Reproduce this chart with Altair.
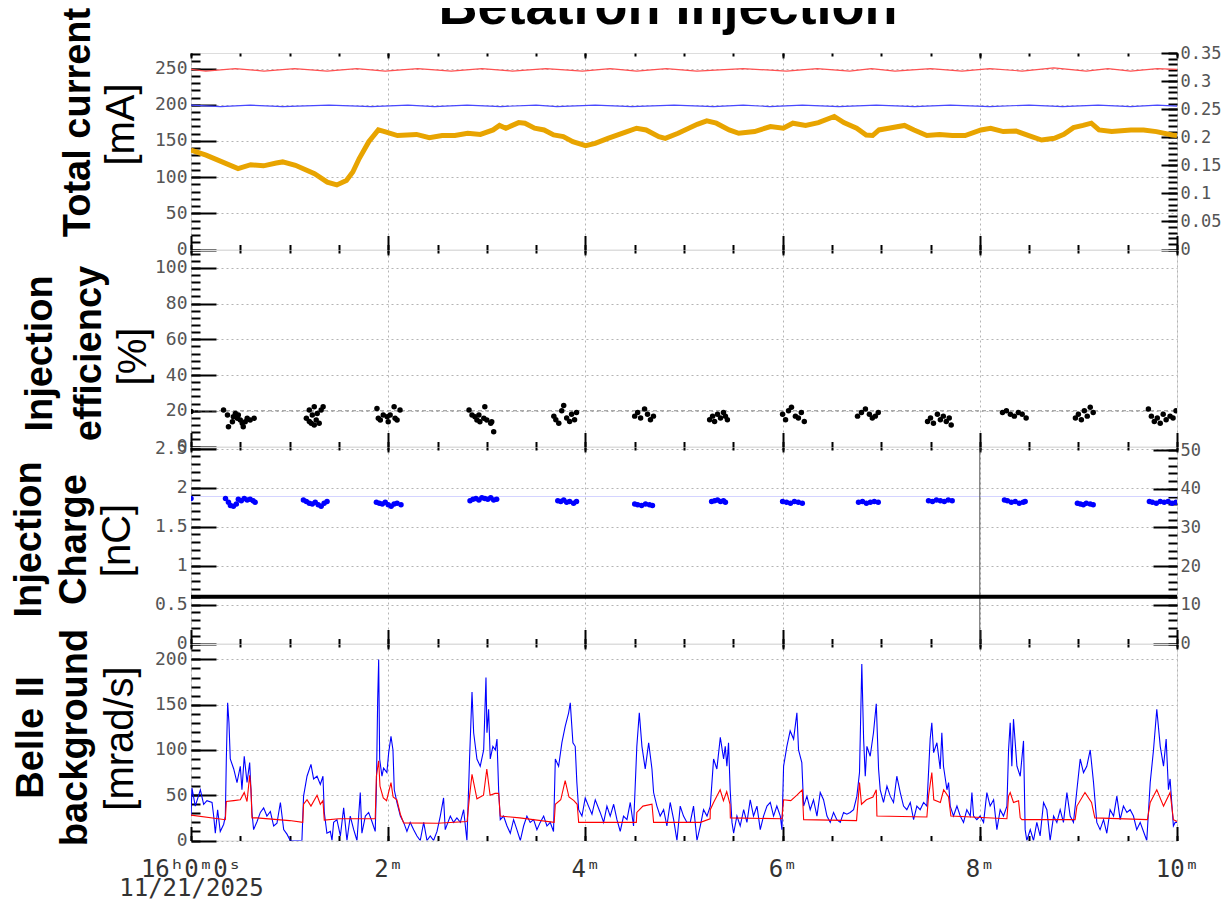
import altair as alt
import pandas as pd

# ---------------- shared time axis (minutes after 16:00:00) ----------------
X_TICKS = [0, 2, 4, 6, 8, 10]
X_LABELS = ["16ʰ0ᵐ0ˢ", "2ᵐ", "4ᵐ", "6ᵐ", "8ᵐ", "10ᵐ"]
X_DATE = "11/21/2025"

# ---------------- panel 1 : total current ----------------
ler_t = [0, 0.15, 0.45, 0.74, 1.05, 1.38, 1.68, 1.97, 2.3, 2.64, 2.95, 3.26, 3.6, 3.97, 4.25, 4.52, 4.82,
         5.13, 5.6, 6.04, 6.35, 6.68, 6.9, 7.14, 7.5, 7.82, 8.1, 8.43, 8.75, 9.08, 9.3, 9.53, 9.8, 10]
ler_v = [249, 246.5, 250, 246.5, 250, 246.5, 250, 246.5, 250, 246.5, 250, 246.5, 250, 246.5, 250, 246.5, 250,
         246.5, 250, 246.5, 250, 246.5, 250, 246.5, 250, 246.5, 250, 246.5, 251, 246.5, 250, 246.5, 250, 249]
her_t = [0, 0.3, 0.6, 0.93, 1.4, 1.83, 2.2, 2.47, 2.8, 3.14, 3.5, 3.71, 4.1, 4.47, 4.9, 5.3, 5.6, 5.87,
         6.2, 6.57, 6.95, 7.34, 7.7, 8.1, 8.5, 8.84, 9.2, 9.53, 9.8, 10]
her_v = [199.5, 197.5, 199.5, 197.5, 199.5, 197.5, 199.5, 197.5, 199.5, 197.5, 199.5, 197.5, 199.5, 197.5,
         199.5, 197.5, 199.5, 197.5, 199.5, 197.5, 199.5, 197.5, 199.5, 197.5, 199.5, 197.5, 199.5, 197.5, 199.5, 198]
# orange trace, read against the right-hand axis
ora_t = [0, 0.153, 0.477, 0.606, 0.735, 0.865, 0.930, 1.059, 1.253, 1.382, 1.479, 1.576, 1.641, 1.706,
         1.803, 1.900, 1.964, 2.094, 2.288, 2.417, 2.547, 2.676, 2.806, 2.935, 3.064, 3.129, 3.193, 3.323,
         3.387, 3.485, 3.581, 3.678, 3.776, 3.872, 4.002, 4.099, 4.228, 4.422, 4.519, 4.616, 4.745, 4.810,
         4.940, 5.134, 5.231, 5.328, 5.458, 5.555, 5.716, 5.877, 6.007, 6.104, 6.233, 6.363, 6.524, 6.621,
         6.751, 6.848, 6.913, 6.978, 7.075, 7.236, 7.333, 7.463, 7.592, 7.721, 7.851, 8.012, 8.110, 8.238,
         8.368, 8.497, 8.627, 8.756, 8.853, 8.950, 9.047, 9.131, 9.209, 9.338, 9.532, 9.661, 9.791, 9.952, 10]
ora_v = [0.177, 0.168, 0.144, 0.151, 0.149, 0.154, 0.156, 0.150, 0.135, 0.120, 0.115, 0.123, 0.138, 0.162,
         0.192, 0.213, 0.210, 0.203, 0.205, 0.199, 0.203, 0.203, 0.207, 0.205, 0.213, 0.221, 0.216, 0.226,
         0.225, 0.216, 0.213, 0.204, 0.201, 0.192, 0.185, 0.189, 0.198, 0.210, 0.216, 0.213, 0.201, 0.198,
         0.207, 0.223, 0.229, 0.225, 0.213, 0.207, 0.210, 0.219, 0.216, 0.225, 0.221, 0.226, 0.237, 0.226,
         0.216, 0.204, 0.203, 0.213, 0.216, 0.221, 0.213, 0.203, 0.205, 0.203, 0.203, 0.213, 0.216, 0.210,
         0.211, 0.203, 0.195, 0.198, 0.205, 0.217, 0.221, 0.225, 0.213, 0.210, 0.213, 0.213, 0.210, 0.204, 0.203]

# ---------------- panel 2 : injection efficiency [%] ----------------
eff = [(0.0, 19.6),
       (0.33, 20.4), (0.37, 17.6), (0.38, 11.1), (0.42, 13.9), (0.43, 16.7), (0.45, 18.5), (0.47, 15.8),
       (0.48, 17.6), (0.50, 14.8), (0.52, 13.0), (0.53, 11.1), (0.55, 13.9), (0.57, 15.8), (0.60, 14.8), (0.64, 15.8),
       (1.17, 15.8), (1.20, 20.4), (1.22, 13.0), (1.23, 17.6), (1.25, 12.0), (1.27, 14.8), (1.28, 18.5),
       (1.30, 13.0), (1.32, 20.4), (1.34, 22.2), (1.25, 22.2), (1.20, 14.0),
       (1.886, 21.3), (1.90, 15.8), (1.92, 14.8), (1.95, 17.6), (1.99, 16.7), (2.0, 13.9), (2.02, 17.6),
       (2.06, 22.2), (2.07, 15.8), (2.09, 14.8), (2.12, 20.4),
       (2.82, 20.4), (2.85, 17.6), (2.88, 16.7), (2.90, 14.8), (2.93, 13.9), (2.97, 15.8), (2.98, 22.2),
       (3.0, 14.8), (3.04, 13.0), (3.05, 13.9), (3.07, 8.3), (2.92, 17.6),
       (3.68, 17), (3.70, 15), (3.73, 13), (3.76, 20), (3.78, 23), (3.81, 16), (3.84, 14), (3.86, 18), (3.89, 15), (3.91, 19),
       (4.50, 17), (4.53, 19), (4.56, 16), (4.60, 21), (4.63, 18), (4.66, 15), (4.69, 17),
       (5.26, 15), (5.29, 17), (5.31, 14), (5.34, 18), (5.37, 16), (5.40, 19), (5.42, 17), (5.44, 15),
       (6.00, 18), (6.03, 15), (6.06, 20), (6.09, 22), (6.13, 17), (6.16, 16), (6.19, 19), (6.22, 14),
       (6.76, 17), (6.80, 19), (6.84, 21), (6.88, 18), (6.91, 16), (6.94, 17), (6.97, 19),
       (7.47, 14), (7.50, 16), (7.53, 13), (7.57, 18), (7.60, 15), (7.63, 17), (7.66, 14), (7.69, 16), (7.71, 12),
       (8.23, 19), (8.27, 20), (8.31, 18), (8.35, 17), (8.39, 19), (8.43, 18), (8.47, 16),
       (8.97, 16), (9.00, 18), (9.03, 15), (9.06, 20), (9.09, 17), (9.12, 22), (9.15, 19),
       (9.71, 21), (9.74, 17), (9.77, 14), (9.80, 16), (9.83, 13), (9.86, 18), (9.89, 15), (9.93, 17), (9.96, 16), (9.99, 20)]
eff_ref = 20

# ---------------- panel 3 : injection charge [nC] ----------------
chg = [(0.0, 1.86),
       (0.35, 1.86), (0.38, 1.81), (0.40, 1.77), (0.43, 1.76), (0.46, 1.79), (0.48, 1.85), (0.51, 1.83),
       (0.54, 1.86), (0.57, 1.84), (0.60, 1.85), (0.63, 1.83), (0.65, 1.81),
       (1.14, 1.84), (1.17, 1.82), (1.20, 1.80), (1.23, 1.79), (1.26, 1.81), (1.29, 1.78), (1.32, 1.76), (1.35, 1.80), (1.38, 1.82),
       (1.88, 1.81), (1.91, 1.80), (1.94, 1.79), (1.97, 1.81), (2.00, 1.78), (2.03, 1.76), (2.06, 1.79), (2.09, 1.80), (2.13, 1.78),
       (2.83, 1.83), (2.86, 1.85), (2.89, 1.86), (2.92, 1.84), (2.95, 1.87), (2.98, 1.86), (3.01, 1.85), (3.04, 1.87), (3.07, 1.84), (3.10, 1.85),
       (3.72, 1.83), (3.75, 1.82), (3.78, 1.84), (3.81, 1.81), (3.84, 1.82), (3.88, 1.80), (3.91, 1.82),
       (4.50, 1.79), (4.53, 1.78), (4.57, 1.77), (4.61, 1.79), (4.65, 1.78), (4.68, 1.77),
       (5.28, 1.82), (5.31, 1.83), (5.34, 1.84), (5.37, 1.82), (5.40, 1.83), (5.42, 1.81),
       (6.00, 1.82), (6.04, 1.81), (6.08, 1.80), (6.12, 1.82), (6.16, 1.81), (6.20, 1.80),
       (6.77, 1.81), (6.81, 1.82), (6.85, 1.80), (6.89, 1.81), (6.93, 1.82), (6.97, 1.81),
       (7.48, 1.83), (7.52, 1.82), (7.56, 1.84), (7.60, 1.83), (7.64, 1.82), (7.68, 1.84), (7.72, 1.83),
       (8.25, 1.84), (8.28, 1.83), (8.32, 1.81), (8.36, 1.82), (8.40, 1.80), (8.44, 1.81), (8.46, 1.82),
       (8.99, 1.80), (9.02, 1.79), (9.05, 1.78), (9.08, 1.80), (9.12, 1.79), (9.15, 1.78),
       (9.72, 1.82), (9.75, 1.81), (9.79, 1.80), (9.83, 1.82), (9.87, 1.81), (9.91, 1.82), (9.95, 1.80), (9.99, 1.81)]
chg_hold = 1.885
chg_floor = 0.6
chg_marker_t = 8

# ---------------- panel 4 : Belle II background [mrad/s], time in seconds ----------------
bg_blue = [(0, 27), (0.6, 58), (2.6, 38), (5.7, 56), (7.7, 40), (9.7, 44), (12.8, 42), (13.8, 27), (14.8, 8),
           (16.2, 34), (17.8, 10), (19.9, 18), (20.9, 27), (21.5, 90), (22.3, 152), (23.1, 130), (23.9, 90),
           (26.0, 79), (28.0, 64), (30.0, 82), (31.0, 56), (32.4, 93), (34.1, 64), (35.7, 86), (36.5, 56),
           (37.1, 31), (38.1, 12), (40.2, 21), (42.2, 31), (44.2, 36), (46.2, 27), (48.3, 32), (50.3, 16),
           (52.3, 19), (54.4, 42), (56.4, 12), (58.4, 7), (60.4, 0), (67.5, 0), (68.5, 49), (70.6, 71),
           (73.0, 84), (74.6, 68), (76.7, 71), (78.7, 62), (80.3, 71), (81.1, 31), (82.7, 8), (84.8, 10),
           (85.8, 0), (86.8, 20), (88.8, 23), (90.9, 5), (92.9, 36), (94.9, 0), (96.9, 27), (99.0, 12),
           (101.0, 0), (103.0, 53), (104.0, 8), (106.1, 27), (108.1, 31), (110.1, 21), (112.1, 10),
           (112.8, 56), (113.6, 156), (114.2, 200), (114.8, 90), (116.2, 71), (117.2, 80), (119.2, 75),
           (120.3, 97), (121.7, 115), (122.9, 100), (123.7, 56), (125.3, 42), (127.4, 27), (129.4, 20),
           (131.4, 10), (133.4, 20), (135.5, 12), (137.5, 5), (139.5, 0), (141.6, 20), (143.6, 0), (145.6, 5),
           (147.6, 0), (149.7, 10), (151.7, 27), (153.7, 47), (154.7, 12), (157.8, 27), (159.8, 20),
           (161.8, 25), (163.9, 20), (165.9, 34), (167.9, 0), (169.5, 90), (171.0, 164), (172.0, 119),
           (174.0, 90), (176.0, 82), (178.1, 100), (179.5, 180), (180.1, 119), (181.1, 145), (182.1, 90),
           (183.7, 104), (185.2, 100), (186.2, 112), (187.2, 56), (188.2, 23), (190.2, 27), (192.3, 16),
           (194.3, 8), (196.3, 23), (198.3, 12), (200.4, 0), (202.4, 16), (204.4, 27), (206.4, 20),
           (208.5, 23), (210.5, 12), (212.5, 20), (214.6, 27), (216.6, 16), (218.6, 20), (220.6, 10),
           (221.7, 90), (223.7, 82), (225.7, 108), (227.7, 126), (229.8, 141), (230.8, 152), (232.4, 108),
           (233.8, 104), (234.8, 64), (235.9, 34), (237.9, 27), (239.9, 47), (241.9, 38), (244.0, 29),
           (246.0, 45), (249.0, 31), (251.1, 20), (253.1, 38), (255.1, 27), (257.2, 40), (259.2, 23),
           (261.2, 10), (263.2, 27), (265.3, 23), (267.3, 42), (269.3, 16), (271.3, 104), (272.8, 141),
           (274.4, 104), (276.4, 79), (278.5, 108), (280.5, 79), (281.5, 53), (283.5, 38), (285.5, 27),
           (287.6, 34), (289.6, 16), (291.6, 42), (293.7, 23), (295.7, 0), (297.7, 38), (299.7, 27),
           (301.8, 20), (303.8, 20), (305.8, 38), (307.9, 0), (309.9, 16), (311.9, 34), (314.0, 27),
           (316.0, 38), (318.0, 90), (320.0, 79), (322.1, 114), (324.1, 90), (325.1, 104), (326.1, 82),
           (327.1, 108), (328.1, 56), (329.2, 20), (330.2, 8), (332.2, 27), (334.2, 16), (336.3, 34),
           (338.3, 20), (340.3, 45), (342.3, 27), (344.4, 38), (346.4, 12), (348.4, 27), (350.5, 38),
           (352.5, 42), (354.5, 27), (356.5, 38), (358.6, 27), (359.6, 12), (360.6, 82), (362.6, 104),
           (364.6, 121), (366.7, 112), (368.7, 141), (369.7, 100), (371.7, 86), (372.8, 38), (374.8, 49),
           (376.8, 34), (378.8, 45), (380.9, 27), (382.9, 53), (384.9, 45), (387.0, 27), (389.0, 20),
           (391.0, 31), (393.0, 23), (395.1, 20), (397.1, 31), (399.1, 29), (401.1, 31), (403.2, 34),
           (405.2, 49), (406.8, 75), (408.2, 195), (409.3, 112), (410.3, 71), (411.3, 104), (413.3, 93),
           (415.3, 119), (417.0, 151), (418.4, 79), (419.4, 56), (421.4, 42), (423.5, 60), (425.5, 49),
           (427.5, 42), (429.5, 71), (431.6, 53), (433.6, 38), (435.6, 34), (437.7, 42), (439.7, 23),
           (441.7, 38), (443.7, 34), (445.8, 42), (447.8, 38), (449.8, 112), (450.8, 130), (451.9, 97),
           (453.9, 108), (455.9, 79), (456.9, 119), (457.9, 82), (460.0, 56), (461.0, 64), (462.0, 38),
           (464.0, 27), (466.1, 38), (468.1, 27), (470.1, 20), (472.1, 34), (474.2, 27), (475.2, 53),
           (476.2, 27), (478.2, 23), (480.2, 27), (482.3, 20), (484.3, 53), (486.3, 38), (488.4, 45),
           (490.4, 12), (492.4, 34), (494.4, 27), (496.5, 38), (497.5, 100), (498.5, 130), (499.5, 82),
           (500.5, 134), (502.6, 82), (504.6, 71), (506.6, 110), (507.6, 12), (508.6, 0), (510.7, 12),
           (512.7, 0), (514.7, 20), (516.7, 5), (518.8, 42), (520.8, 34), (522.8, 0), (524.9, 27),
           (526.9, 20), (528.9, 34), (530.9, 20), (533.0, 53), (535.0, 27), (537.0, 20), (539.1, 56),
           (541.1, 90), (543.1, 75), (545.1, 82), (547.2, 100), (549.2, 64), (551.2, 20), (553.2, 12),
           (555.3, 23), (557.3, 8), (559.3, 34), (561.4, 27), (563.4, 49), (565.4, 23), (567.4, 38),
           (569.5, 31), (571.5, 34), (573.5, 27), (575.5, 12), (577.6, 20), (579.6, 10), (581.6, 0),
           (583.7, 64), (585.7, 100), (587.7, 145), (589.8, 104), (591.8, 82), (593.4, 112), (594.8, 56),
           (595.8, 68), (597.8, 16), (598.9, 20), (600, 20)]
bg_red = [(0, 28), (20.9, 23), (21.5, 43), (26, 44), (30, 45), (32.4, 53), (34.1, 43), (35.7, 72), (36.5, 56),
          (37.1, 25), (40, 25), (60, 22), (68, 20), (68.5, 40), (70.6, 45), (73, 38), (76.7, 50), (78.7, 40),
          (80.3, 44), (81.1, 22.5), (90, 24), (112.1, 24), (112.8, 71), (114.2, 88), (115, 60), (117, 47),
          (119, 44), (121.7, 64), (123, 48), (125.3, 45), (127.4, 29), (129.4, 19.5), (150, 19), (168, 21),
          (169.5, 49), (171, 73), (174, 46), (178, 50), (180, 79), (182, 50), (185, 52), (187.2, 52),
          (188.2, 27), (200, 25), (221, 20), (221.7, 40), (225, 45), (227.7, 66), (230, 48), (233, 44),
          (235, 40), (235.9, 20), (260, 20), (271, 20), (271.3, 31), (275, 38), (280.5, 40), (281.5, 20),
          (300, 20), (310, 20), (315.9, 24), (316, 34), (318, 42), (322, 56), (324, 44), (326, 54),
          (328, 40), (328.2, 25), (359.6, 24), (360.6, 45), (365, 44), (368.7, 50), (372, 56), (372.8, 23),
          (405, 22), (406.8, 64), (408, 40), (411, 45), (415, 48), (417, 56), (417.4, 27), (447.8, 26),
          (448.8, 49), (450.8, 75), (452, 45), (456, 42), (458, 56), (461, 48), (462.4, 27), (496.5, 24),
          (497.5, 49), (498.5, 53), (500.5, 42), (503.6, 44), (504.6, 25), (505.6, 23), (538, 23),
          (539.1, 38), (544, 53), (548, 42), (550, 25), (582, 23), (583.7, 42), (587.7, 56), (591.8, 38),
          (595.8, 53), (597.8, 23), (600, 21)]

# ---------------- styling helpers ----------------
W, H = 986, 196.5
MONO = "DejaVu Sans Mono"
SANS = "Liberation Sans"
LABEL_GREY = "#555555"
GRID = dict(grid=True, gridColor="#b4b4b4", gridDash=[2, 3], gridWidth=1)
MAJOR_LEFT = 25

dummy = pd.DataFrame({"t": [0.0], "v": [0.0]})


def xs():
    return alt.Scale(domain=[0, 10], nice=False, zero=False)


def ys(dom):
    return alt.Scale(domain=dom, nice=False, zero=False)


def ghost(xaxis, yaxis, ydom):
    return alt.Chart(dummy).mark_point(opacity=0).encode(
        x=alt.X("t:Q", scale=xs(), axis=xaxis),
        y=alt.Y("v:Q", scale=ys(ydom), axis=yaxis),
    )


def tick_axis(orient, values, length, width=2):
    return alt.Axis(orient=orient, values=values, offset=-length, tickSize=length, tickWidth=width,
                    tickColor="black", labels=False, domain=False, grid=False, title=None)


def unit_axis(values, unit, tx, ty):
    # major inward ticks on the left; carries the (regular-weight) unit line of the title
    return alt.Axis(orient="left", values=values, offset=-MAJOR_LEFT, tickSize=MAJOR_LEFT, tickWidth=2,
                    tickColor="black", labels=False, domain=False, grid=False,
                    title=unit, titleFont=SANS, titleFontSize=40, titleFontWeight="normal",
                    titleColor="black", titleAngle=-90, titleX=tx - MAJOR_LEFT, titleY=ty,
                    titleAlign="center", titleBaseline="alphabetic")


def main_x(with_labels):
    if with_labels:
        expr = ""
        for v, lab in zip(X_TICKS, X_LABELS):
            txt = f"['{lab}', '{X_DATE}']" if v == 0 else f"'{lab}'"
            expr += f"datum.value == {v} ? {txt} : "
        expr += "''"
        return alt.Axis(orient="bottom", values=X_TICKS, ticks=False, domain=False, title=None,
                        labelExpr=expr, labelFont=MONO, labelFontSize=24, labelColor="#333333",
                        labelPadding=17, labelFlush=False, labelLineHeight=19, labelOverlap=False, **GRID)
    return alt.Axis(orient="bottom", values=X_TICKS, ticks=False, domain=False, labels=False, title=None, **GRID)


def x_axes(with_labels):
    minor = [i * 0.5 for i in range(21)]
    return [main_x(with_labels),
            tick_axis("bottom", X_TICKS, 14), tick_axis("bottom", minor, 5),
            tick_axis("top", X_TICKS, 5), tick_axis("top", minor, 3)]


def left_main(values, title, tx, ty, lh):
    return alt.Axis(orient="left", values=values, ticks=False, domain=False, format="~r",
                    labelFont=MONO, labelFontSize=18, labelColor=LABEL_GREY, labelPadding=4,
                    title=title, titleFont=SANS, titleFontSize=38, titleFontWeight="bold",
                    titleColor="black", titleAngle=-90, titleX=tx, titleY=ty, titleAlign="center",
                    titleBaseline="alphabetic", titleLineHeight=lh, **GRID)


def right_main(values):
    return alt.Axis(orient="right", values=values, ticks=False, domain=False, grid=False, format="~r",
                    labelFont=MONO, labelFontSize=17, labelColor=LABEL_GREY, labelPadding=3, title=None)


def panel(data_layers, y_axes, xax):
    n = max(len(y_axes), len(xax))
    ghosts = []
    for i in range(n):
        xa = xax[i] if i < len(xax) else None
        ya, yd = y_axes[i] if i < len(y_axes) else (None, [0, 1])
        ghosts.append(ghost(xa, ya, yd))
    return alt.layer(*ghosts, *data_layers).resolve_scale(x="independent", y="independent").properties(
        width=W, height=H)


def line(df, dom, color, width, dash=None):
    kw = dict(color=color, strokeWidth=width, clip=True)
    if dash:
        kw["strokeDash"] = dash
    return alt.Chart(df).mark_line(**kw).encode(
        x=alt.X("t:Q", scale=xs(), axis=None),
        y=alt.Y("v:Q", scale=ys(dom), axis=None))


def dots(df, dom, color, size):
    return alt.Chart(df).mark_circle(color=color, size=size, opacity=1, clip=True).encode(
        x=alt.X("t:Q", scale=xs(), axis=None),
        y=alt.Y("v:Q", scale=ys(dom), axis=None))


def seq(lo, hi, step):
    out, k = [], 0
    while lo + k * step <= hi + 1e-9:
        out.append(round(lo + k * step, 6))
        k += 1
    return out


# ---------------- panel 1 ----------------
D1 = [0, 271.5]
D1R = [0, 0.35]
p1 = panel(
    [line(pd.DataFrame({"t": ler_t, "v": ler_v}), D1, "#ff5050", 1.2),
     line(pd.DataFrame({"t": her_t, "v": her_v}), D1, "#4848ff", 1.2),
     line(pd.DataFrame({"t": ora_t, "v": ora_v}), D1R, "#e8a400", 5)],
    [(left_main(seq(0, 250, 50), ["Total current"], -102, 69, 43), D1),
     (unit_axis(seq(0, 250, 50), "[mA]", -58, 71), D1),
     (tick_axis("left", seq(0, 270, 10), 9), D1),
     (right_main(seq(0, 0.35, 0.05)), D1R),
     (tick_axis("right", seq(0, 0.35, 0.05), 16), D1R),
     (tick_axis("right", seq(0, 0.35, 0.01), 9), D1R)],
    x_axes(False))

# ---------------- panel 2 ----------------
D2 = [0, 110]
eff_df = pd.DataFrame(eff, columns=["t", "v"])
p2 = panel(
    [line(pd.DataFrame({"t": [0, 10], "v": [eff_ref, eff_ref]}), D2, "#8a8a8a", 1, [4, 3]),
     dots(eff_df, D2, "black", 30)],
    [(left_main(seq(0, 100, 20), ["Injection", "efficiency"], -140, 103, 49), D2),
     (unit_axis(seq(0, 100, 20), "[%]", -46, 106), D2),
     (tick_axis("left", seq(0, 108, 4), 9), D2)],
    x_axes(False))

# ---------------- panel 3 ----------------
D3 = [0, 2.52]
D3R = [0, 50.8]
chg_df = pd.DataFrame(chg, columns=["t", "v"])
p3 = panel(
    [line(pd.DataFrame({"t": [0, 10], "v": [chg_hold, chg_hold]}), D3, "#d4d4ff", 1),
     line(pd.DataFrame({"t": [chg_marker_t, chg_marker_t], "v": [0, 2.52]}), D3, "#555555", 1),
     line(pd.DataFrame({"t": [0, 10], "v": [chg_floor, chg_floor]}), D3, "black", 4),
     dots(chg_df, D3, "#0000ff", 30)],
    [(left_main(seq(0, 2.5, 0.5), ["Injection", "Charge"], -151, 92, 45), D3),
     (unit_axis(seq(0, 2.5, 0.5), "[nC]", -62, 93), D3),
     (tick_axis("left", seq(0, 2.5, 0.1), 9), D3),
     (right_main(seq(0, 50, 10)), D3R),
     (tick_axis("right", seq(0, 50, 10), 24), D3R),
     (tick_axis("right", seq(0, 50, 2), 9), D3R)],
    x_axes(False))

# ---------------- panel 4 ----------------
D4 = [0, 217]
blue_df = pd.DataFrame(bg_blue, columns=["s", "v"])
blue_df["t"] = blue_df["s"] / 60.0
red_df = pd.DataFrame(bg_red, columns=["s", "v"])
red_df["t"] = red_df["s"] / 60.0
p4 = panel(
    [line(blue_df, D4, "#0000ff", 1.1),
     line(red_df, D4, "#ff0000", 1.1)],
    [(left_main(seq(0, 200, 50), ["Belle II", "background"], -149, 93, 44), D4),
     (unit_axis(seq(0, 200, 50), "[mrad/s]", -59, 94), D4),
     (tick_axis("left", seq(0, 210, 10), 9), D4)],
    x_axes(True))

chart = alt.vconcat(p1, p2, p3, p4, spacing=0, bounds="flush").properties(
    title=alt.TitleParams("Betatron Injection", font=SANS, fontSize=54, fontWeight="bold", color="black",
                          anchor="middle", frame="group", dx=-16, offset=-71, baseline="alphabetic"),
    padding={"top": -28, "left": 1, "right": 0, "bottom": 0},
).configure_view(stroke="black", strokeWidth=2).configure(background="white")

chart.save("out.html", embed_options={"renderer": "svg", "actions": False})
